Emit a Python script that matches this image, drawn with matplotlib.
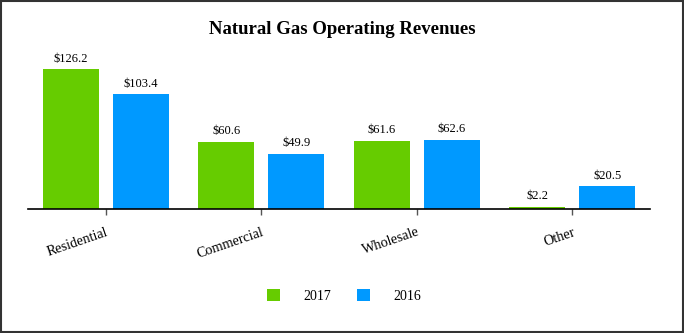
import numpy as np
import matplotlib.pyplot as plt

categories = ["Residential", "Commercial", "Wholesale", "Other"]
rev_2017 = [126.2, 60.6, 61.6, 2.2]
rev_2016 = [103.4, 49.9, 62.6, 20.5]

green = "#66CC00"
blue = "#0099FF"

plt.rcParams['font.family'] = ['Liberation Serif', 'DejaVu Serif']

W, H = 684, 333
fig = plt.figure(figsize=(W / 100, H / 100), dpi=100)

# axes box in pixel coords: x 28..650, y 50..209
ax = fig.add_axes([28 / W, 1 - 209 / H, 622 / W, 159 / H])

x = np.arange(len(categories))
bw = 0.36
off = 0.225
b1 = ax.bar(x - off, rev_2017, bw, color=green, label="2017")
b2 = ax.bar(x + off, rev_2016, bw, color=blue, label="2016")

for bars, vals in ((b1, rev_2017), (b2, rev_2016)):
    for r, v in zip(bars, vals):
        ax.text(r.get_x() + r.get_width() / 2, v + 4, f"${v:.1f}",
                ha="center", va="bottom", fontsize=9)

ax.set_xlim(-0.5, 3.5)
ax.set_ylim(0, 143.4)
ax.set_yticks([])
for s in ("top", "right", "left"):
    ax.spines[s].set_visible(False)
ax.spines["bottom"].set_linewidth(1.2)
ax.set_xticks(x)
ax.set_xticklabels(categories, rotation=19, ha="right", fontsize=10.2,
                   rotation_mode="anchor")
ax.tick_params(axis="x", length=4, width=1, color="#555555", pad=8)

fig.text(0.5, 1 - 30 / H, "Natural Gas Operating Revenues", ha="center",
         va="center", fontsize=13.5, fontweight="bold")

fig.legend(handles=[b1, b2], labels=["2017", "2016"], loc="center",
           bbox_to_anchor=(344 / W, 1 - 296 / H), ncol=2, frameon=False,
           fontsize=10, handlelength=0.95, handleheight=0.95,
           columnspacing=1.9, handletextpad=1.65)

border = plt.Rectangle((0.0015, 0.003), 0.997, 0.994, transform=fig.transFigure,
                       fill=False, edgecolor="#333333", linewidth=1.5)
fig.patches.append(border)

fig.savefig("out.png", dpi=100)
